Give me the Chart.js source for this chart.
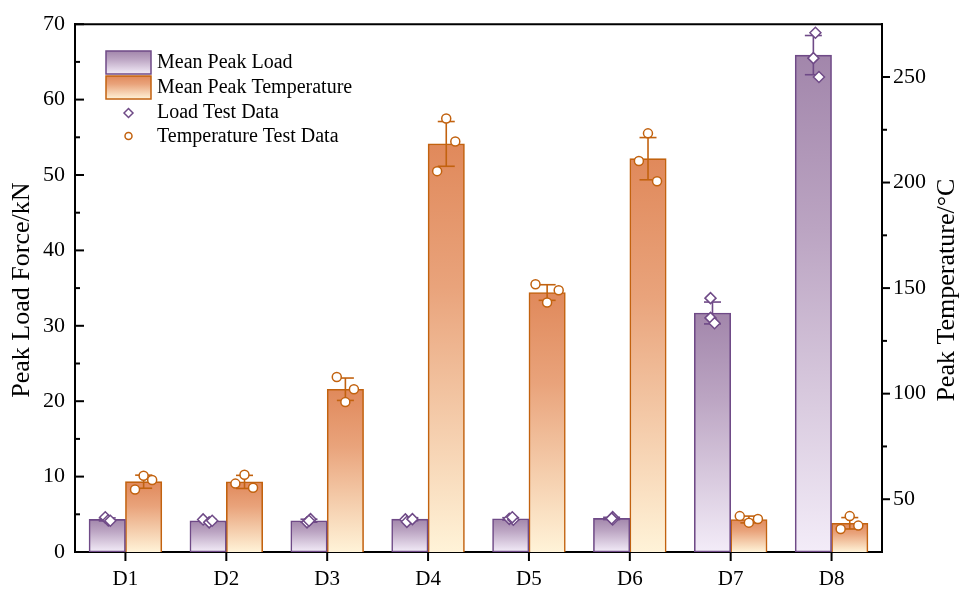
<!DOCTYPE html>
<html>
<head>
<meta charset="utf-8">
<script src="https://cdn.jsdelivr.net/npm/chart.js@4.4.1/dist/chart.umd.min.js"></script>
<style>
  html, body { margin: 0; padding: 0; background: #fff; }
  canvas { display: block; }
</style>
</head>
<body>
<canvas id="chart" width="960" height="589"></canvas>
<script>
// --- DATA ---
const categories = ['D1', 'D2', 'D3', 'D4', 'D5', 'D6', 'D7', 'D8'];
const meanLoad = [4.32, 4.13, 4.15, 4.35, 4.4, 4.45, 31.7, 65.9];
const loadErr  = [0.2, 0.2, 0.2, 0.2, 0.15, 0.15, 1.45, 2.6];
const meanTemp = [58.3, 58.2, 102.1, 218.3, 147.9, 211.3, 40.4, 38.6];
const tempErr  = [3.1, 3.1, 5.3, 10.6, 3.7, 10.0, 1.6, 2.7];

// three test runs per specimen
const loadTests = [
  [4.6, 4.2, 4.15], [4.32, 3.93, 4.15], [3.93, 4.36, 4.15], [4.32, 4.0, 4.36],
  [4.4, 4.28, 4.6], [4.62, 4.32, 4.45], [33.67, 31.05, 30.35], [68.86, 65.5, 63.0]
];
const tempTests = [
  [54.6, 61.1, 59.1], [57.4, 61.6, 55.4], [107.9, 102.1, 96.0], [230.3, 219.4, 205.4],
  [151.8, 149.0, 143.2], [223.3, 210.2, 200.6], [42.0, 38.9, 40.6], [35.9, 42.0, 37.5]
];
// horizontal scatter of the test points inside each bar (fraction of a category)
const loadJitter = [
  [-0.02, 0.01, 0.03], [-0.05, 0.01, 0.04], [-0.02, 0.015, 0], [-0.045, -0.03, 0.025],
  [-0.015, 0.025, 0.015], [0.01, 0.01, 0], [-0.02, -0.02, 0.02], [0.02, 0, 0.055]
];
const tempJitter = [
  [-0.085, 0, 0.085], [-0.09, 0, 0.085], [-0.085, 0.085, 0], [0, 0.09, -0.09],
  [-0.115, 0.115, 0], [0, -0.09, 0.09], [-0.09, 0, 0.09], [-0.09, 0, 0.085]
];
const loadTicks = [0, 10, 20, 30, 40, 50, 60, 70];
const tempTicks = [50, 100, 150, 200, 250];

// --- STYLE ---
const FONT = "'Liberation Serif', 'Times New Roman', serif";
const PURPLE = '#6f4a87';
const ORANGE = '#c2620f';
// gradient stops: [offset, colour]
const PURPLE_GRAD = [[0, '#a286ab'], [0.35, '#bba4c2'], [1, '#f3ecf8']];
const ORANGE_GRAD = [[0, '#e0895b'], [0.35, '#e9a37b'], [1, '#fff3d8']];
const BAR_SHARE = 0.72;           // both bars together, fraction of a category
const HALF = BAR_SHARE / 4;       // offset of each bar centre from category centre
const BAR_PX = 36.4;              // one bar, pixels

function makeGradient(ctx, y0, y1, stops) {
  const g = ctx.createLinearGradient(0, y0, 0, y1);
  stops.forEach(([o, c]) => g.addColorStop(o, c));
  return g;
}

function gradientFill(stops, axisId) {
  return function (c) {
    const chart = c.chart;
    const area = chart.chartArea;
    if (!area || c.type !== 'data') return stops[0][1];
    const s = chart.scales[axisId];
    return makeGradient(chart.ctx, s.getPixelForValue(c.raw), area.bottom, stops);
  };
}

function testPoints(tests, jitter, side) {
  const pts = [];
  tests.forEach((row, i) => row.forEach((v, k) => {
    pts.push({ x: i + side + jitter[i][k], y: v });
  }));
  return pts;
}

function line(ctx, x1, y1, x2, y2) {
  ctx.beginPath();
  ctx.moveTo(x1, y1);
  ctx.lineTo(x2, y2);
  ctx.stroke();
}

const decor = {
  id: 'decor',
  afterDatasetDraw(chart, args) {
    const ds = chart.data.datasets[args.index];
    if (!ds.errors) return;
    const ctx = chart.ctx;
    const ys = chart.scales[ds.yAxisID];
    ctx.save();
    ctx.strokeStyle = ds.borderColor;
    ctx.lineWidth = 1.6;
    args.meta.data.forEach((bar, i) => {
      const m = ds.data[i], e = ds.errors[i];
      const yt = ys.getPixelForValue(m + e);
      const yb = ys.getPixelForValue(m - e);
      line(ctx, bar.x, yt, bar.x, yb);
      line(ctx, bar.x - 8.5, yt, bar.x + 8.5, yt);
      line(ctx, bar.x - 8.5, yb, bar.x + 8.5, yb);
    });
    ctx.restore();
  },
  afterDraw(chart) {
    const ctx = chart.ctx;
    const { left, right, top, bottom } = chart.chartArea;
    const yL = chart.scales.y, yR = chart.scales.y2, x = chart.scales.x;
    ctx.save();
    ctx.strokeStyle = '#000';
    ctx.lineWidth = 2;
    // top frame
    line(ctx, left - 1, top, right + 1, top);
    // left ticks, inward
    loadTicks.forEach((v, i) => {
      const p = yL.getPixelForValue(v);
      line(ctx, left, p, left + 9, p);
      if (i > 0) {
        const q = yL.getPixelForValue((v + loadTicks[i - 1]) / 2);
        line(ctx, left, q, left + 5, q);
      }
    });
    // right ticks, outward
    tempTicks.forEach((v, i) => {
      const p = yR.getPixelForValue(v);
      line(ctx, right, p, right + 8, p);
      if (i > 0) {
        const q = yR.getPixelForValue((v + tempTicks[i - 1]) / 2);
        line(ctx, right, q, right + 5, q);
      }
    });
    // category ticks
    categories.forEach((c, i) => {
      const p = x.getPixelForValue(i);
      line(ctx, p, bottom, p, bottom + 9);
    });

    // axis titles
    ctx.fillStyle = '#000';
    ctx.font = '26px ' + FONT;
    ctx.textAlign = 'center';
    ctx.textBaseline = 'middle';
    const mid = (top + bottom) / 2;
    [[22, 'Peak Load Force/kN'], [947, 'Peak Temperature/\u00B0C']].forEach(([tx, t]) => {
      ctx.save();
      ctx.translate(tx, mid + 2);
      ctx.rotate(-Math.PI / 2);
      ctx.fillText(t, 0, 0);
      ctx.restore();
    });

    // legend
    const lx = 106, lw = 45;
    const swatch = (y0, h, stops, border) => {
      ctx.fillStyle = makeGradient(ctx, y0, y0 + h, stops);
      ctx.fillRect(lx, y0, lw, h);
      ctx.strokeStyle = border;
      ctx.lineWidth = 1.5;
      ctx.strokeRect(lx, y0, lw, h);
    };
    swatch(51, 23, PURPLE_GRAD, PURPLE);
    swatch(76, 23, ORANGE_GRAD, ORANGE);
    ctx.lineWidth = 1.5;
    ctx.fillStyle = '#fff';
    ctx.strokeStyle = PURPLE;
    Chart.helpers.drawPoint(ctx, { pointStyle: 'rectRot', radius: 4.5, borderWidth: 1.5 }, lx + 22.5, 113);
    ctx.strokeStyle = ORANGE;
    Chart.helpers.drawPoint(ctx, { pointStyle: 'circle', radius: 3.5, borderWidth: 1.5 }, lx + 22.5, 136);
    ctx.fillStyle = '#000';
    ctx.font = '20px ' + FONT;
    ctx.textAlign = 'left';
    ['Mean Peak Load', 'Mean Peak Temperature', 'Load Test Data', 'Temperature Test Data']
      .forEach((t, i) => ctx.fillText(t, 157, 63 + i * 24.7));
    ctx.restore();
  }
};

Chart.defaults.color = '#000';
Chart.defaults.font.family = FONT;

new Chart(document.getElementById('chart'), {
  data: {
    labels: categories,
    datasets: [
      {
        type: 'scatter', label: 'Load Test Data', order: 1,
        data: testPoints(loadTests, loadJitter, -HALF),
        xAxisID: 'xs', yAxisID: 'y',
        pointStyle: 'rectRot', pointRadius: 5.5, pointBorderWidth: 1.5,
        pointBackgroundColor: '#fff', pointBorderColor: PURPLE
      },
      {
        type: 'scatter', label: 'Temperature Test Data', order: 1,
        data: testPoints(tempTests, tempJitter, HALF),
        xAxisID: 'xs', yAxisID: 'y2',
        pointStyle: 'circle', pointRadius: 4.5, pointBorderWidth: 1.5,
        pointBackgroundColor: '#fff', pointBorderColor: ORANGE
      },
      {
        type: 'bar', label: 'Mean Peak Load', order: 3,
        data: meanLoad, errors: loadErr, xAxisID: 'x', yAxisID: 'y',
        backgroundColor: gradientFill(PURPLE_GRAD, 'y'),
        borderColor: PURPLE, borderWidth: 1.6, borderSkipped: false,
        barThickness: BAR_PX
      },
      {
        type: 'bar', label: 'Mean Peak Temperature', order: 3,
        data: meanTemp, errors: tempErr, xAxisID: 'x', yAxisID: 'y2',
        backgroundColor: gradientFill(ORANGE_GRAD, 'y2'),
        borderColor: ORANGE, borderWidth: 1.6, borderSkipped: false,
        barThickness: BAR_PX
      }
    ]
  },
  options: {
    responsive: false,
    animation: false,
    devicePixelRatio: 1,
    layout: { padding: { top: 17 } },
    plugins: { legend: { display: false }, tooltip: { enabled: false } },
    scales: {
      x: {
        type: 'category', offset: true,
        grid: { display: false, drawTicks: false },
        border: { display: true, color: '#000', width: 2 },
        ticks: { font: { size: 21 }, padding: 15 },
        afterFit: s => { s.height = 37; }
      },
      xs: { type: 'linear', display: false, min: -0.5, max: 7.5 },
      y: {
        position: 'left', min: 0, max: 70,
        afterBuildTicks: s => { s.ticks = loadTicks.map(v => ({ value: v })); },
        grid: { display: false, drawTicks: false },
        border: { display: true, color: '#000', width: 2 },
        ticks: { font: { size: 22 }, padding: 10 },
        afterFit: s => { s.width = 75; }
      },
      y2: {
        position: 'right', min: 25, max: 275,
        afterBuildTicks: s => { s.ticks = tempTicks.map(v => ({ value: v })); },
        grid: { display: false, drawTicks: false },
        border: { display: true, color: '#000', width: 2 },
        ticks: { font: { size: 22 }, padding: 11 },
        afterFit: s => { s.width = 78; }
      }
    }
  },
  plugins: [decor]
});
</script>
</body>
</html>
